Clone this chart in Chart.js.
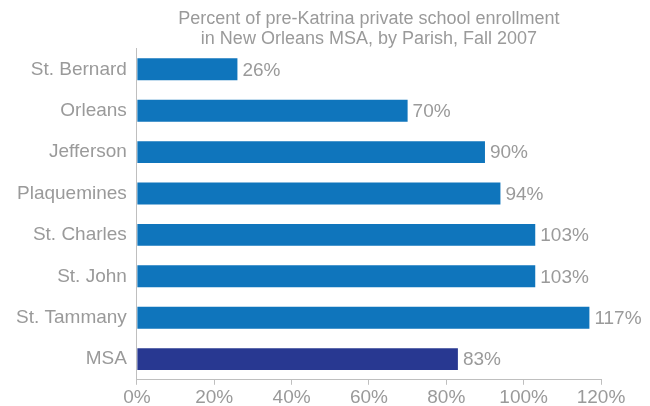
<!DOCTYPE html>
<html lang="en">
<head>
  <meta charset="UTF-8">
  <title>Private school enrollment</title>
  <style>
    html, body { margin: 0; padding: 0; background: #fff; }
    .chartContainer { width: 650px; height: 406px; }
  </style>
</head>
<body>
  <div class="chartContainer">
    <canvas id="myChart"></canvas>
  </div>
  <script src="https://cdn.jsdelivr.net/npm/chart.js"></script>
  <script>
    const parishes = ['St. Bernard', 'Orleans', 'Jefferson', 'Plaquemines', 'St. Charles', 'St. John', 'St. Tammany', 'MSA']
    const enrollment = [26, 70, 90, 94, 103, 103, 117, 83]
    const barColors = ['#0f75bc', '#0f75bc', '#0f75bc', '#0f75bc', '#0f75bc', '#0f75bc', '#0f75bc', '#283891']
    const xTicks = [0, 20, 40, 60, 80, 100, 120]

    const grey = '#9a9a9a'
    const fontFamily = '"Liberation Sans", Arial, sans-serif'

    // value labels at the end of each bar
    const valueLabels = {
      id: 'valueLabels',
      afterDatasetsDraw(chart) {
        const ctx = chart.ctx
        const meta = chart.getDatasetMeta(0)
        ctx.save()
        ctx.font = '19px ' + fontFamily
        ctx.fillStyle = grey
        ctx.textAlign = 'left'
        ctx.textBaseline = 'middle'
        meta.data.forEach((bar, i) => {
          ctx.fillText(enrollment[i] + '%', bar.x + 5, bar.y + 1)
        })
        ctx.restore()
      }
    }

    const data = {
      labels: parishes,
      datasets: [{
        data: enrollment,
        backgroundColor: barColors,
        borderWidth: 0,
        categoryPercentage: 1,
        barPercentage: 0.53
      }]
    }

    const config = {
      type: 'bar',
      data: data,
      options: {
        indexAxis: 'y',
        responsive: true,
        maintainAspectRatio: false,
        animation: false,
        layout: { padding: { right: 49, bottom: -4, left: 6 } },
        plugins: {
          legend: { display: false },
          tooltip: { enabled: false },
          title: {
            display: true,
            fullSize: false,
            text: ['Percent of pre-Katrina private school enrollment', 'in New Orleans MSA, by Parish, Fall 2007'],
            color: grey,
            font: { family: fontFamily, size: 18, weight: 'normal', lineHeight: 1.1 },
            padding: { top: 9, bottom: 0 }
          }
        },
        scales: {
          x: {
            min: 0,
            max: 120,
            afterBuildTicks(axis) {
              axis.ticks = xTicks.map(v => ({ value: v }))
            },
            ticks: {
              color: grey,
              font: { family: fontFamily, size: 19, lineHeight: 0.8 },
              padding: 5,
              maxRotation: 0,
              callback: v => v + '%'
            },
            grid: {
              drawOnChartArea: false,
              drawTicks: true,
              tickLength: 5,
              color: '#bfbfbf'
            },
            border: { color: '#bfbfbf', width: 1 }
          },
          y: {
            ticks: {
              color: grey,
              font: { family: fontFamily, size: 19 },
              padding: 10
            },
            grid: { display: false, drawTicks: false },
            border: { color: '#bfbfbf', width: 1 }
          }
        }
      },
      plugins: [valueLabels]
    }

    const myChart = new Chart(document.getElementById('myChart'), config)
  </script>
</body>
</html>
